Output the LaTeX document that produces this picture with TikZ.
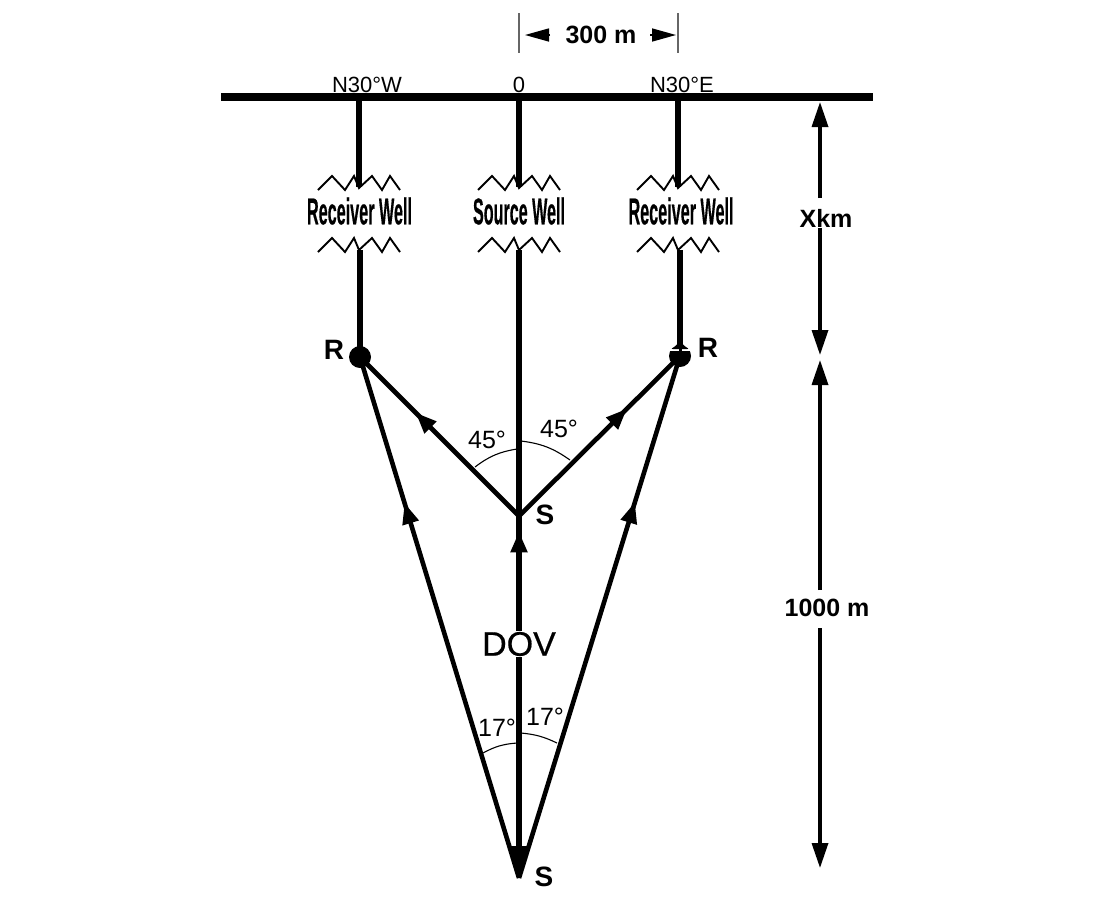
\documentclass[tikz,border=0pt]{standalone}
\usepackage{fontspec}
\setmainfont{Liberation Sans}
\newfontface\heavy{Liberation Sans Bold}[FakeBold=0.6]
\newfontface\semi{Liberation Sans}[FakeBold=0.5]
\usetikzlibrary{arrows.meta,decorations.markings}
\newcommand{\fsz}[1]{\fontsize{#1pt}{#1pt}\selectfont}
\tikzset{
  bar/.style={line width=8pt},
  well/.style={line width=6pt},
  ray/.style={line width=4.6pt},
  thinline/.style={line width=1.1pt},
  zig/.style={line width=1.9pt},
  tick/.style={line width=1.4pt,draw=black!60},
  dimline/.style={line width=3.4pt},
  dimtip/.style={-{Triangle[length=25pt,width=16pt]}},
  wtip/.style={-{Triangle[length=24pt,width=13pt]}},
  midarrow/.style={postaction={decorate,decoration={markings,mark=at position #1 with {\arrow{Triangle[length=21pt,width=16pt]}}}}},
  small/.style={inner sep=0pt,font=\fsz{22}},
  angle/.style={inner sep=0pt,font=\fsz{25}},
  big/.style={inner sep=0pt,font=\fsz{25}\bfseries},
  ptlabel/.style={inner sep=0pt,font=\fsz{28}\bfseries},
  pt/.style={circle,fill=black,inner sep=0pt,minimum size=22pt},
}
\newcommand{\wellname}[2]{\resizebox{#1pt}{27pt}{\heavy #2}}
\newcommand{\zigzag}[2]{\draw[zig] (#1-41,#2+14) -- (#1-27,#2) -- (#1-14,#2+14) -- (#1-5,#2) -- (#1,#2+12) -- (#1+13,#2) -- (#1+23,#2+14) -- (#1+31,#2) -- (#1+41,#2+14);}
\begin{document}
\begin{tikzpicture}[x=1pt,y=-1pt]
\useasboundingbox (0,0) rectangle (1100,900);
% anchors
\coordinate (barL) at (221,97);
\coordinate (barR) at (873,97);
\coordinate (wlT) at (359,97);
\coordinate (wcT) at (519,97);
\coordinate (wrT) at (678,97);
\coordinate (wlA) at (359,187);
\coordinate (wcA) at (519,187);
\coordinate (wrA) at (678,187);
\coordinate (wlB) at (360,250);
\coordinate (wcB) at (519,250);
\coordinate (wrB) at (680,250);
\node[pt] (rl) at (360,357) {};
\node[pt] (rr) at (680,356) {};
\coordinate (sm) at (519,516);
\coordinate (sb) at (519,878);
% surface and wells
\draw[bar] (barL) -- (barR);
\draw[well] (wlT) -- (wlA);
\draw[well] (wcT) -- (wcA);
\draw[well] (wrT) -- (wrA);
\draw[well] (wlB) -- (rl.center);
\draw[well] (wcB) -- (sm);
\draw[well] (wrB) -- (rr.center);
\zigzag{359}{176}
\zigzag{519}{176}
\zigzag{678}{176}
\zigzag{359}{238}
\zigzag{519}{238}
\zigzag{678}{238}
\node[inner sep=0pt] (nwl) at (359.5,211) {\wellname{105}{Receiver Well}};
\node[inner sep=0pt] (nwc) at (519,211) {\wellname{92}{Source Well}};
\node[inner sep=0pt] (nwr) at (681,211) {\wellname{105}{Receiver Well}};
\node[small] (tl) at (367,85) {N30°W};
\node[small] (tc) at (519,85) {0};
\node[small] (tr) at (682,85) {N30°E};
% rays
\draw[ray,midarrow=0.65] (sm) -- (rl.center);
\draw[ray,midarrow=0.67] (sm) -- (rr.center);
\draw[ray,midarrow=0.72] (sb) -- (rl.center);
\draw[ray,midarrow=0.72] (sb) -- (rr.center);
\coordinate (cb) at (519,860);
\draw[line width=6pt,midarrow=0.955] (cb) -- (sm);
\draw[line width=6pt,-{Triangle[length=32pt,width=19pt]}] (sm) -- (sb);
\node[fill=white,inner sep=1pt,font=\fsz{34}\semi] (dov) at (519,644) {DOV};
% right-side notch at R
\coordinate (nl) at (669,350);
\coordinate (nr) at (691,350);
\coordinate (rrup) at (680,341);
\draw[line width=2pt,white] (nl) -- (nr);
\draw[line width=3pt,-{Triangle[length=8pt,width=14pt]}] (rr.center) -- (rrup);
% angle arcs
\coordinate (a1) at (475,467); \coordinate (a2) at (517,449);
\coordinate (a3) at (521,441); \coordinate (a4) at (570,460);
\coordinate (a5) at (483,753); \coordinate (a6) at (517,743);
\coordinate (a7) at (521,733); \coordinate (a8) at (557,743);
\draw[thinline] (a1) to[bend left=14] (a2);
\draw[thinline] (a3) to[bend left=14] (a4);
\draw[thinline] (a5) to[bend left=12] (a6);
\draw[thinline] (a7) to[bend left=10] (a8);
\node[angle] (l45a) at (487,440) {45°};
\node[angle] (l45b) at (559,429) {45°};
\node[angle] (l17a) at (497,728) {17°};
\node[angle] (l17b) at (545,717) {17°};
% point labels
\node[ptlabel] (lr1) at (334,350) {R};
\node[ptlabel] (lr2) at (708,348) {R};
\node[ptlabel] (ls1) at (545,515) {S};
\node[ptlabel] (ls2) at (544,877) {S};
% 300 m dimension
\coordinate (t1a) at (519,13); \coordinate (t1b) at (519,53);
\coordinate (t2a) at (678,13); \coordinate (t2b) at (678,53);
\coordinate (d1) at (550,35); \coordinate (d1t) at (525,35);
\coordinate (d2) at (650,35); \coordinate (d2t) at (676,35);
\draw[tick] (t1a) -- (t1b);
\draw[tick] (t2a) -- (t2b);
\draw[line width=1.5pt,wtip] (d1) -- (d1t);
\draw[line width=1.5pt,wtip] (d2) -- (d2t);
\node[big] (d300) at (601,35) {300 m};
% vertical dimensions
\node[big] (xkm) at (826,218) {Xkm};
\node[big] (d1000) at (827,608) {1000 m};
\coordinate (v1) at (820,102);
\coordinate (v2) at (820,355);
\coordinate (v3) at (820,360);
\coordinate (v4) at (820,868);
\draw[dimline,dimtip] (820,198) -- (v1);
\draw[dimline,dimtip] (820,228) -- (v2);
\draw[dimline,dimtip] (820,590) -- (v3);
\draw[dimline,dimtip] (820,628) -- (v4);
\end{tikzpicture}
\end{document}
